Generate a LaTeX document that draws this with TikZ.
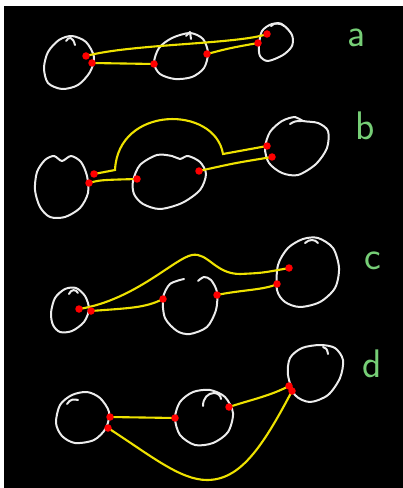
\documentclass[tikz,border=0pt]{standalone}
\usepackage{tikz}
\definecolor{chalk}{RGB}{236,236,236}
\definecolor{marker}{RGB}{238,226,0}
\definecolor{tagGreen}{RGB}{118,206,118}

\begin{document}
\begin{tikzpicture}[
    x=0.03cm, y=-0.03cm,
    blob/.style={draw=chalk,line width=1.7pt,line cap=round,line join=round},
    wire/.style={draw=marker,line width=1.8pt,line cap=round},
    tag/.style={text=tagGreen,inner sep=0pt,font=\sffamily\fontsize{34}{34}\selectfont}
  ]
    % board
    \fill[white] (0,0) rectangle (403,488);
    \fill[black] (4,6) rectangle (403,488);
    \useasboundingbox (0,0) rectangle (403,488);

    % --- a ---
    \draw[blob] plot[smooth cycle] coordinates {(72,36) (86,42) (94,57) (90,72) (78,85) (62,89) (48,83) (44,68) (48,52) (59,40)};
    \draw[blob] (66,41) .. controls (69,36) and (73,37) .. (75,45);
    \draw[blob] plot[smooth cycle] coordinates {(154,63) (159,48) (172,38) (190,33) (203,39) (208,53) (204,68) (192,77) (175,79) (160,74)};
    \draw[blob] (186,36) -- (190,32) -- (191,39);
    \draw[blob] plot[smooth cycle] coordinates {(259,45) (262,31) (272,24) (283,25) (292,35) (292,46) (283,55) (268,61) (260,56)};
    \draw[blob] (271,26) .. controls (275,22) and (281,22) .. (284,26);
    \coordinate (a1) at (86,56);
    \coordinate (a2) at (92,63);
    \coordinate (a3) at (154,64);
    \coordinate (a4) at (207,54);
    \coordinate (a5) at (258,43);
    \coordinate (a6) at (267,34);
    \draw[wire] (a1) .. controls (130,44) and (240,44) .. (a6);
    \draw[wire] (a2) -- (a3);
    \draw[wire] (a4) .. controls (230,48) .. (a5);
    \node[tag] (tagA) at (356,38) {a};

    % --- b ---
    \draw[blob] plot[smooth cycle] coordinates {(62,161) (71,156) (81,162) (87,176) (88,193) (80,208) (65,217) (50,217) (40,207) (35,190) (37,172) (45,160) (54,156)};
    \draw[blob] plot[smooth cycle] coordinates {(133,181) (140,165) (157,155) (172,156) (180,159) (188,156) (200,162) (206,174) (200,190) (182,203) (160,209) (143,204) (134,194)};
    \draw[blob] plot[smooth cycle] coordinates {(265,148) (270,132) (282,121) (295,117) (303,121) (318,123) (328,131) (327,148) (316,164) (298,175) (282,173) (269,163)};
    \draw[blob] (290,124) .. controls (295,121) .. (304,121);
    \coordinate (b1) at (94,174);
    \coordinate (b2) at (89,183);
    \coordinate (b3) at (137,179);
    \coordinate (b4) at (199,171);
    \coordinate (b5) at (267,146);
    \coordinate (b6) at (272,157);
    \draw[wire] (b1) -- (115,170) .. controls (118,105) and (215,105) .. (223,154) -- (b5);
    \draw[wire] (b2) .. controls (100,180) .. (b3);
    \draw[wire] (b4) .. controls (235,163) .. (b6);
    \node[tag] (tagB) at (365,126) {b};

    % --- c ---
    \draw[blob] plot[smooth cycle] coordinates {(51,313) (55,298) (65,289) (76,288) (85,296) (89,309) (84,322) (72,331) (60,332) (53,325)};
    \draw[blob] (69,294) .. controls (71,289) and (76,289) .. (78,293);
    \draw[blob] plot[smooth] coordinates {(184,279) (170,284) (163,298) (165,318) (177,331) (190,334) (207,327) (216,310) (217,292) (211,280) (204,277) (198,281)};
    \draw[blob] plot[smooth cycle] coordinates {(277,290) (278,265) (288,248) (303,239) (318,238) (333,248) (339,268) (335,288) (320,302) (300,307) (285,302)};
    \draw[blob] (305,243) .. controls (309,239) and (315,239) .. (318,243);
    \coordinate (c1) at (79,309);
    \coordinate (c2) at (91,311);
    \coordinate (c3) at (163,299);
    \coordinate (c4) at (217,295);
    \coordinate (c5) at (277,284);
    \coordinate (c6) at (289,268);
    \draw[wire] (c1) .. controls (135,300) and (175,258) .. (192,255)
                     .. controls (208,252) and (215,274) .. (240,274)
                     .. controls (262,273) .. (c6);
    \draw[wire] (c2) .. controls (130,308) and (145,308) .. (c3);
    \draw[wire] (c4) .. controls (240,290) and (265,290) .. (c5);
    \node[tag] (tagC) at (373,261) {c};

    % --- d ---
    \draw[blob] plot[smooth cycle] coordinates {(56,423) (60,405) (72,395) (87,392) (100,398) (109,412) (106,428) (94,440) (75,443) (62,436)};
    \draw[blob] (67,404) .. controls (70,399) and (74,399) .. (78,400);
    \draw[blob] plot[smooth cycle] coordinates {(175,418) (180,402) (193,392) (210,390) (225,397) (233,413) (228,432) (213,443) (195,445) (180,435)};
    \draw[blob] (203,406) .. controls (203,398) and (208,393) .. (214,393) .. controls (218,393) and (221,396) .. (221,399);
    \draw[blob] plot[smooth cycle] coordinates {(288,375) (290,358) (302,348) (320,345) (335,348) (343,360) (340,378) (328,395) (310,402) (295,395)};
    \draw[blob] (323,347) .. controls (327,349) .. (328,354);
    \coordinate (d1) at (110,417);
    \coordinate (d2) at (108,428);
    \coordinate (d3) at (175,418);
    \coordinate (d4) at (229,407);
    \coordinate (d5) at (289,386);
    \coordinate (d6) at (292,391);
    \draw[wire] (d1) -- (d3);
    \draw[wire] (d4) .. controls (250,400) and (270,396) .. (d5);
    \draw[wire] (d2) .. controls (150,455) and (180,480) .. (207,480)
                     .. controls (240,480) and (262,448) .. (d6);
    \node[tag] (tagD) at (372,364) {d};

    % end points
    \foreach \p in {a,b,c,d}
      \foreach \i in {1,...,6}
        \fill[red] (\p\i) circle[radius=3.2pt];
  \end{tikzpicture}
\end{document}
